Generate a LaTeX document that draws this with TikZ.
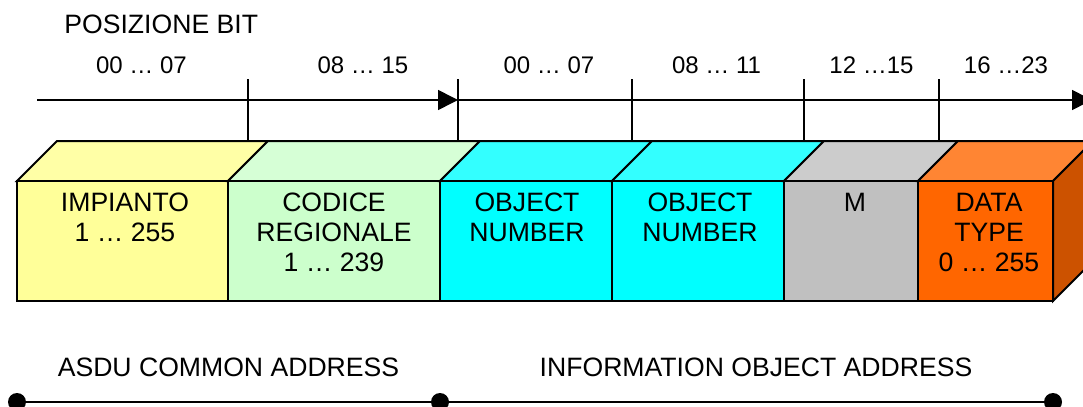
\documentclass[tikz,border=0pt]{standalone}
\usepackage{fontspec}
\setmainfont{Liberation Sans}
\usetikzlibrary{arrows.meta}

% face colours of the address blocks (front / top / side)
\definecolor{yelF}{HTML}{FFFF99}
\definecolor{yelT}{HTML}{FFFFA6}
\definecolor{grnF}{HTML}{CCFFCC}
\definecolor{grnT}{HTML}{D6FFD6}
\definecolor{cyaF}{HTML}{00FFFF}
\definecolor{cyaT}{HTML}{33FFFF}
\definecolor{gryF}{HTML}{C0C0C0}
\definecolor{gryT}{HTML}{CCCCCC}
\definecolor{orgF}{HTML}{FF6600}
\definecolor{orgT}{HTML}{FF8533}
\definecolor{orgS}{HTML}{CC5200}

\begin{document}
\begin{tikzpicture}[x=0.5pt,y=-0.5pt,
  lbl/.style={font=\fontsize{13.3}{15}\selectfont, inner sep=0pt},
  bits/.style={font=\fontsize{12}{14}\selectfont, inner sep=0pt},
  face/.style={draw=black, line width=1pt, line join=miter},
  axisline/.style={line width=0.8pt},
  tip/.style={-{Triangle[length=10pt,width=10pt]}},
  tick/.style={line width=0.8pt},
  dot/.style={circle, fill=black, inner sep=0pt, minimum size=9pt},
  span/.style={line width=1pt}]

\useasboundingbox (0,0) rectangle (1083,407);
\clip (0,0) rectangle (1083,407);

% title and bit ranges
\node[lbl, anchor=base west] (title) at (64,33.5) {POSIZIONE BIT};
\node[bits, anchor=base] (r1) at (141.5,73) {00 … 07};
\node[bits, anchor=base] (r2) at (363,73) {08 … 15};
\node[bits, anchor=base] (r3) at (549,73) {00 … 07};
\node[bits, anchor=base] (r4) at (716.5,73) {08 … 11};
\node[bits, anchor=base] (r5) at (871.5,73) {12 …15};
\node[bits, anchor=base] (r6) at (1006,73) {16 …23};

% bit axis with its two arrows
\coordinate (a0) at (37,100);
\coordinate (a1) at (458,100);
\coordinate (a2) at (1092,100);
\draw[axisline, tip] (a0) -- (a1);
\draw[axisline, tip] (a1) -- (a2);
\foreach \tx in {248,458,632,804,939}
  \draw[tick] (\tx,79) -- (\tx,141);

% blocks: top face and front face
\foreach \xl/\xr/\fc/\tc in {17/228/yelF/yelT, 228/440/grnF/grnT,
    440/612/cyaF/cyaT, 612/784/cyaF/cyaT, 784/918/gryF/gryT, 918/1053/orgF/orgT} {
  \filldraw[face, fill=\tc] (\xl,181) -- (\xl+40,141) -- (\xr+40,141) -- (\xr,181) -- cycle;
  \filldraw[face, fill=\fc] (\xl,181) rectangle (\xr,301);
}
% side face of the last block
\filldraw[face, fill=orgS] (1053,181) -- (1093,141) -- (1093,261) -- (1053,301) -- cycle;

% block labels
\node[lbl, align=center, anchor=north] (impianto) at (125,193) {IMPIANTO\\1 … 255};
\node[lbl, align=center, anchor=north] (codice) at (334,193) {CODICE\\REGIONALE\\1 … 239};
\node[lbl, align=center, anchor=north] (obj1) at (527,193) {OBJECT\\NUMBER};
\node[lbl, align=center, anchor=north] (obj2) at (700,193) {OBJECT\\NUMBER};
\node[lbl, align=center, anchor=north] (mbit) at (855,193) {M};
\node[lbl, align=center, anchor=north] (dtype) at (989,193) {DATA\\TYPE\\0 … 255};

% address spans
\node[lbl, anchor=base] (asdu) at (228.5,376) {ASDU COMMON ADDRESS};
\node[lbl, anchor=base] (ioa) at (756,376) {INFORMATION OBJECT ADDRESS};
\node[dot] (d1) at (17,402) {};
\node[dot] (d2) at (440,402) {};
\node[dot] (d3) at (1053,402) {};
\draw[span] (d1) -- (d2);
\draw[span] (d2) -- (d3);
\end{tikzpicture}
\end{document}
